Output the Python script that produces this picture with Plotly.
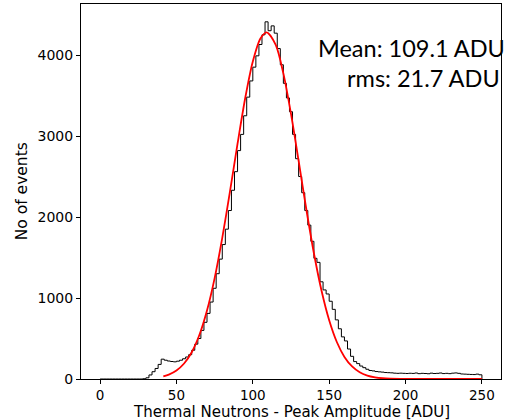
import numpy as np
import plotly.graph_objects as go

# ---------------- data ----------------
bin_start = 0
bin_width = 2
counts = [
    0, 0, 0, 0, 0, 0, 0, 0, 0, 0, 0, 0, 0, 0, 3,          # 0-30
    15, 50, 90, 130, 180, 245, 232, 222, 216, 212,        # 30-50
    220, 232, 250, 272, 300, 355, 430, 500, 600, 700,     # 50-70
    810, 950, 1120, 1300, 1480, 1660, 1850, 2080, 2330, 2560,  # 70-90
    2820, 3020, 3250, 3480, 3680, 3850, 3990, 4130, 4250, 4410,  # 90-110
    4300, 4360, 4270, 4080, 3880, 3650, 3470, 3300, 3020, 2720,  # 110-130
    2500, 2300, 2080, 1900, 1700, 1490, 1440, 1200, 1100, 1050,  # 130-150
    960, 860, 730, 620, 520, 470, 370, 280, 215, 190,     # 150-170
    160, 140, 120, 105, 100, 92, 88, 85, 80, 78,          # 170-190
    76, 72, 70, 72, 70, 68, 71, 69, 74, 66,               # 190-210
    70, 68, 65, 72, 68, 70, 74, 67, 70, 66,               # 210-230
    72, 75, 70, 62, 60, 58, 56, 55, 60, 52,               # 230-250
]

fit_x = [41.4, 45, 50, 55, 60, 65, 70, 75, 80, 85, 90, 95, 100, 105, 109.1,
         115, 120, 125, 130, 135, 140, 145, 150, 155, 160, 165, 170, 175,
         180, 185, 190, 200, 210, 220, 230, 240, 250]
fit_y = [33, 55, 105, 191, 331, 543, 845, 1245, 1742, 2310, 2905, 3466, 3920,
         4204, 4280, 4125, 3773, 3273, 2692, 2099, 1553, 1089, 725, 457, 273,
         155, 83, 43, 21, 9, 4, 1, 0, 0, 0, 0, 0]

x_ticks = [0, 50, 100, 150, 200, 250]
y_ticks = [0, 1000, 2000, 3000, 4000]
x_title = "Thermal Neutrons - Peak Amplitude [ADU]"
y_title = "No of events"
mean_text = "Mean: 109.1 ADU"
rms_text = "rms: 21.7 ADU"

# ---------------- build step outline ----------------
counts_arr = np.array(counts, dtype=float)
edges = bin_start + bin_width * np.arange(len(counts_arr) + 1)
step_x = np.concatenate([[edges[0]], edges, [edges[-1]]])
step_y = np.concatenate([[0], counts_arr, [counts_arr[-1], 0]])

fig = go.Figure()
fig.add_trace(go.Scatter(
    x=step_x, y=step_y, mode="lines",
    line=dict(color="black", width=1, shape="hv"),
    hoverinfo="skip", showlegend=False,
))
fig.add_trace(go.Scatter(
    x=fit_x, y=fit_y, mode="lines",
    line=dict(color="#ff0000", width=1.8, shape="spline", smoothing=0.8),
    hoverinfo="skip", showlegend=False,
))

FAM = "DejaVu Sans, Verdana, sans-serif"
tick_font = dict(family=FAM, size=13.5, color="black")
title_font = dict(family=FAM, size=15, color="black")
note_font = dict(family="Lato", size=23.5, color="black")

fig.update_layout(
    width=506, height=420,
    margin=dict(l=81, r=5, t=4, b=41, autoexpand=False),
    plot_bgcolor="white", paper_bgcolor="white",
    showlegend=False,
    font=dict(family=FAM),
    xaxis=dict(
        range=[-12.5, 262.5], automargin=False,
        tickvals=x_ticks, ticktext=[str(v) for v in x_ticks],
        ticks="outside", ticklen=3.5, tickwidth=1, tickcolor="black",
        showline=True, mirror=True, linecolor="black", linewidth=1,
        showgrid=False, zeroline=False,
        tickfont=tick_font,
    ),
    yaxis=dict(
        range=[0, 4630], automargin=False,
        tickvals=y_ticks, ticktext=[str(v) for v in y_ticks],
        ticks="outside", ticklen=4, tickwidth=1, tickcolor="black",
        showline=True, mirror=True, linecolor="black", linewidth=1,
        showgrid=False, zeroline=False,
        tickfont=dict(family=FAM, size=14, color="black"),
    ),
    annotations=[
        dict(text=x_title, xref="paper", yref="paper",
             x=0.5, y=-0.0595, xanchor="center", yanchor="top",
             showarrow=False, font=title_font),
        dict(text=y_title, xref="paper", yref="paper",
             x=-0.141, y=0.5, xanchor="center", yanchor="middle",
             textangle=-90, showarrow=False,
             font=dict(family=FAM, size=15.5, color="black")),
        dict(text=mean_text, xref="paper", yref="paper",
             x=1.0143, y=0.882, xanchor="right", yanchor="middle",
             showarrow=False, font=note_font),
        dict(text=rms_text, xref="paper", yref="paper",
             x=1.0024, y=0.802, xanchor="right", yanchor="middle",
             showarrow=False, font=note_font),
    ],
)

fig.write_html(
    "out.html",
    config={"displayModeBar": False, "staticPlot": True},
    post_script="document.body.style.margin='0px';document.body.style.overflow='hidden';",
)
